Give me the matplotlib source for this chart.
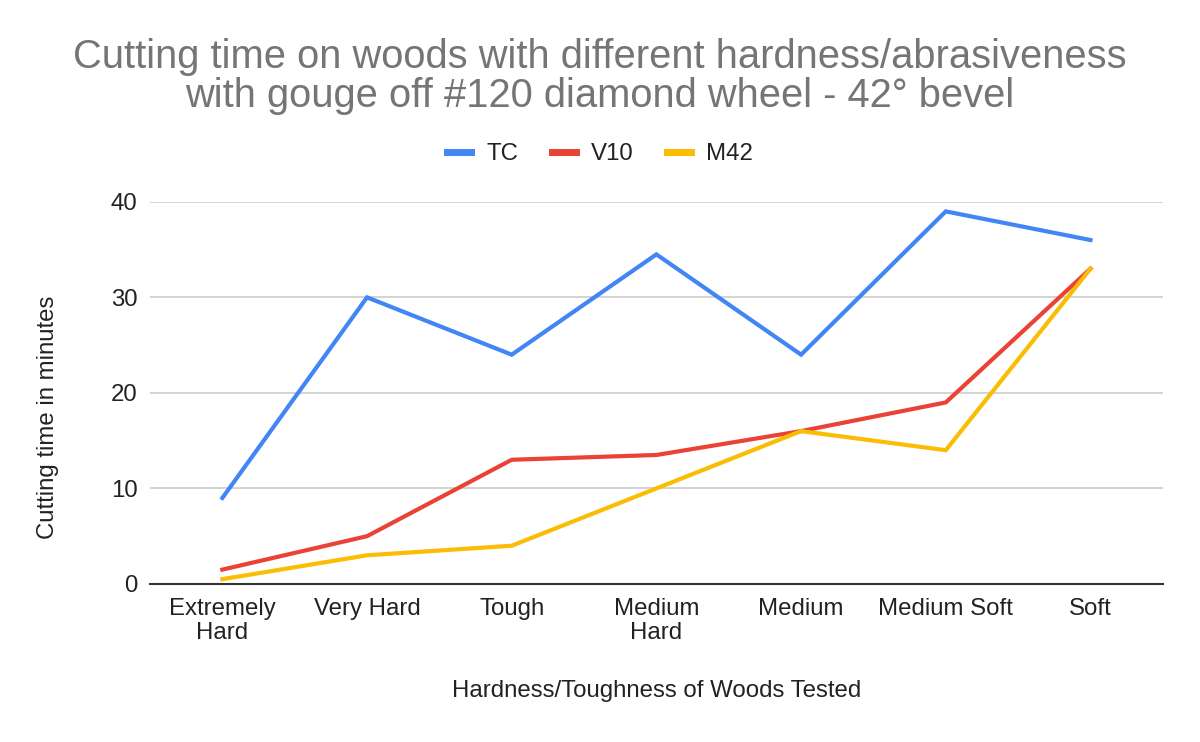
import matplotlib
matplotlib.use('Agg')
import matplotlib.pyplot as plt

plt.rcParams['font.family'] = ['Liberation Sans', 'DejaVu Sans']

categories = ['Extremely\nHard', 'Very Hard', 'Tough', 'Medium\nHard', 'Medium', 'Medium Soft', 'Soft']
tc = [9, 30, 24, 34.5, 24, 39, 36]
v10 = [1.5, 5, 13, 13.5, 16, 19, 33]
m42 = [0.5, 3, 4, 10, 16, 14, 33]
series_names = ['TC', 'V10', 'M42']
colors = ['#4285F4', '#EA4335', '#FBBC04']
y_ticks = [0, 10, 20, 30, 40]

FS = 17.3

fig = plt.figure(figsize=(12, 7.42), dpi=100)
ax = fig.add_axes([0.125, 0.213, 0.844, 0.515])

x = list(range(len(categories)))
lines = []
for vals, name, c in zip([tc, v10, m42], series_names, colors):
    ln, = ax.plot(x, vals, color=c, lw=3, label=name, solid_joinstyle='miter')
    lines.append(ln)

ax.set_xlim(-0.5, len(categories) - 0.5)
ax.set_ylim(0, 40)
ax.set_yticks(y_ticks)
ax.set_xticks(x)
ax.set_xticklabels(categories, fontsize=FS, color='#222222', linespacing=1.12)
ax.tick_params(axis='y', labelsize=FS, labelcolor='#222222', length=0, pad=9)
ax.tick_params(axis='x', length=0, pad=10)
ax.grid(axis='y', color='#cccccc', lw=1.2)
ax.set_axisbelow(True)
for s in ['top', 'right', 'left']:
    ax.spines[s].set_visible(False)
ax.spines['bottom'].set_color('#333333')
ax.spines['bottom'].set_linewidth(1.5)
ax.spines['bottom'].set_zorder(5)

fig.text(0.04, 0.437, 'Cutting time in minutes', rotation=90, ha='center', va='center',
         fontsize=FS, color='#222222')
fig.text(0.547, 0.069, 'Hardness/Toughness of Woods Tested', ha='center', va='center',
         fontsize=FS, color='#222222')

fig.text(0.5, 0.897, 'Cutting time on woods with different hardness/abrasiveness\nwith gouge off #120 diamond wheel - 42\u00b0 bevel',
         ha='center', va='center', fontsize=28.7, color='#757575', linespacing=1.05)

fig.legend(handles=lines, loc='center', bbox_to_anchor=(0.5, 0.792), ncol=3, frameon=False,
           fontsize=FS, handlelength=1.0, handletextpad=0.62, columnspacing=1.4)
for h in fig.legends[0].legend_handles:
    h.set_linewidth(5)
for t in fig.legends[0].get_texts():
    t.set_color('#222222')

fig.savefig('out.png', dpi=100, facecolor='white')
